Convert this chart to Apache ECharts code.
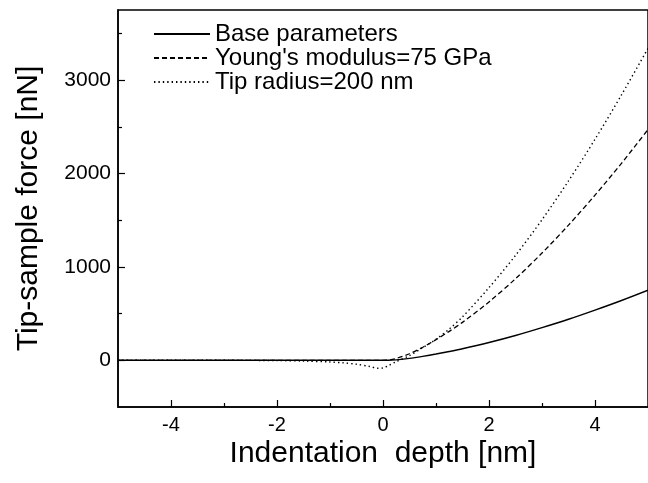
<!DOCTYPE html>
<html>
<head>
<meta charset="utf-8">
<script src="https://cdn.jsdelivr.net/npm/echarts@6/dist/echarts.min.js"></script>
<style>html,body{margin:0;padding:0;background:#fff}#c{width:648px;height:483px}</style>
</head>
<body>
<div id="c"></div>
<script>
// Indentation depth [nm]
var depth =       [-5, -4, -3, -2, -1.5, -1, -0.75, -0.5, -0.25, -0.1, 0, 0.1, 0.25, 0.5, 0.75, 1, 1.25, 1.5, 2, 2.5, 3, 3.5, 4, 4.5, 5];
// Tip-sample force [nN]
var baseForce =   [0, 0, 0, 0, 0, 0, 0, 0, 0, 0, 0, 0, 5, 20, 42, 67, 94, 123, 190, 265, 349, 439, 537, 640, 750];
var youngForce =  [0, 0, 0, 0, 0, 0, 0, 0, 0, 0, 0, 2, 20, 70, 140, 221, 310, 406, 625, 873, 1148, 1447, 1768, 2109, 2470];
var radiusForce = [0, 0, 0, -3, -8, -18, -27, -42, -66, -85, -82, -58, -14, 50, 135, 225, 335, 465, 778, 1123, 1505, 1920, 2366, 2841, 3340];

var seriesNames = ['Base parameters', "Young's modulus=75 GPa", 'Tip radius=200 nm'];
var xMajorTicks = [-4, -2, 0, 2, 4];
var xMinorTicks = [-3, -1, 1, 3];
var yMajorTicks = [0, 1000, 2000, 3000];
var yMinorTicks = [500, 1500, 2500, 3500];

function pairs(ys) { return depth.map(function (x, i) { return [x, ys[i]]; }); }
function plain(v) { return String(v); }

var FONT = '"Liberation Sans", Arial, sans-serif';
var chart = echarts.init(document.getElementById('c'), null, {renderer: 'canvas'});
chart.setOption({
  animation: false,
  backgroundColor: '#fff',
  grid: {left: 118, top: 10, right: -3.5, bottom: 76, show: true, borderColor: '#000', borderWidth: 1.5, containLabel: false},
  legend: {
    orient: 'vertical', left: 148, top: 17, itemWidth: 56, itemHeight: 14, itemGap: 0,
    itemStyle: {opacity: 0},
    textStyle: {fontFamily: FONT, fontSize: 24, color: '#000', lineHeight: 23.5, padding: [0, 0, 0, 0]},
    data: seriesNames
  },
  xAxis: [{
    type: 'value', min: -5, max: 5,
    name: 'Indentation  depth [nm]', nameLocation: 'middle', nameGap: 32, nameMoveOverlap: false,
    nameTextStyle: {fontFamily: FONT, fontSize: 30, color: '#000', verticalAlign: 'top'},
    axisLine: {onZero: false, lineStyle: {color: '#000', width: 1.5}},
    axisTick: {inside: true, length: 7, customValues: xMajorTicks, lineStyle: {color: '#000', width: 1.2}},
    axisLabel: {customValues: xMajorTicks, formatter: plain, fontFamily: FONT, fontSize: 20, color: '#000', margin: 8},
    splitLine: {show: false}
  }, {
    type: 'value', min: -5, max: 5, position: 'bottom',
    axisLine: {show: false, onZero: false},
    axisTick: {inside: true, length: 4, customValues: xMinorTicks, lineStyle: {color: '#000', width: 1.2}},
    axisLabel: {show: false}, splitLine: {show: false}
  }],
  yAxis: [{
    type: 'value', min: -500, max: 3750,
    name: 'Tip-sample force [nN]', nameLocation: 'middle', nameGap: 74, nameMoveOverlap: false,
    nameTextStyle: {fontFamily: FONT, fontSize: 30, color: '#000'},
    axisLine: {onZero: false, lineStyle: {color: '#000', width: 1.5}},
    axisTick: {inside: true, length: 7, customValues: yMajorTicks, lineStyle: {color: '#000', width: 1.2}},
    axisLabel: {customValues: yMajorTicks, formatter: plain, fontFamily: FONT, fontSize: 21, color: '#000', margin: 7},
    splitLine: {show: false}
  }, {
    type: 'value', min: -500, max: 3750, position: 'left',
    axisLine: {show: false, onZero: false},
    axisTick: {inside: true, length: 4, customValues: yMinorTicks, lineStyle: {color: '#000', width: 1.2}},
    axisLabel: {show: false}, splitLine: {show: false}
  }],
  series: [{
    name: seriesNames[0], type: 'line', data: pairs(baseForce), smooth: 0.3, symbol: 'none',
    lineStyle: {color: '#000', width: 1.4, type: 'solid'}, itemStyle: {color: '#000'}, z: 3
  }, {
    name: seriesNames[1], type: 'line', data: pairs(youngForce), smooth: 0.3, symbol: 'none',
    lineStyle: {color: '#000', width: 1.3, type: [5, 3]}, itemStyle: {color: '#000'}, z: 2
  }, {
    name: seriesNames[2], type: 'line', data: pairs(radiusForce), smooth: 0.3, symbol: 'none',
    lineStyle: {color: '#000', width: 1.4, type: [1.4, 3]}, itemStyle: {color: '#000'}, z: 2
  }]
});
</script>
</body>
</html>
